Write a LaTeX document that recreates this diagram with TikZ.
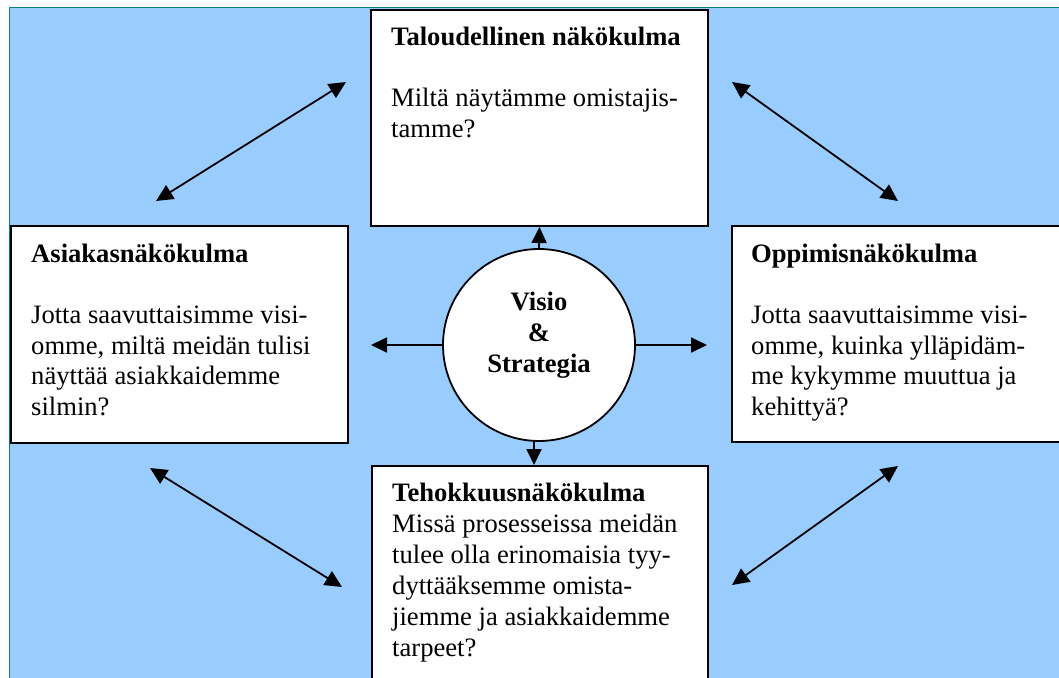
\documentclass[tikz,border=0pt]{standalone}
\usepackage{fontspec}
\setmainfont{Liberation Serif}
\usetikzlibrary{arrows.meta}
\definecolor{skyfill}{HTML}{99CCFF}
\definecolor{edgeteal}{HTML}{008080}

\begin{document}
\begin{tikzpicture}[x=1pt,y=-1pt,
  panel/.style={draw=black, line width=2pt, fill=white, anchor=north west, inner sep=0pt},
  % multi-line text: the base anchor sits on the baseline of the last line
  body/.style={anchor=base west, align=left, inner sep=0pt, font=\fontsize{26.6}{30.7}\selectfont},
  link/.style={line width=1.8pt, -{Triangle[length=16pt,width=15pt]}},
  dlink/.style={line width=1.8pt, {Triangle[length=17pt,width=16pt]}-{Triangle[length=17pt,width=16pt]}}]
  \useasboundingbox (0,0) rectangle (1059,677);
  \clip (0,0) rectangle (1059,677);

  % sky-blue backdrop with its thin framing edge
  \fill[skyfill] (9,8) rectangle (1070,690);
  \draw[edgeteal, line width=1pt] (9,690) -- (9,8) -- (1070,8);

  % the four perspective panels
  \node[panel, minimum width=337pt, minimum height=216pt] (fin) at (370,9) {};
  \node[panel, minimum width=337pt, minimum height=217pt] (cust) at (10,225) {};
  \node[panel, minimum width=340pt, minimum height=216pt] (learn) at (731,225) {};
  \node[panel, minimum width=336pt, minimum height=230pt] (proc) at (371,465) {};

  \node[body] (finT) at (391,137.1)
    {\textbf{Taloudellinen näkökulma}\\[30.7pt]Miltä näytämme omistajis-\\tamme?};
  \node[body] (custT) at (31,415.5)
    {\textbf{Asiakasnäkökulma}\\[30.7pt]Jotta saavuttaisimme visi-\\omme, miltä meidän tulisi\\näyttää asiakkaidemme\\silmin?};
  \node[body] (learnT) at (751,415.5)
    {\textbf{Oppimisnäkökulma}\\[30.7pt]Jotta saavuttaisimme visi-\\omme, kuinka ylläpidäm-\\me kykymme muuttua ja\\kehittyä?};
  \node[body, font=\fontsize{26.6}{31}\selectfont] (procT) at (392,656.5)
    {\textbf{Tehokkuusnäkökulma}\\Missä prosesseissa meidän\\tulee olla erinomaisia tyy-\\dyttääksemme omista-\\jiemme ja asiakkaidemme\\tarpeet?};

  % central vision circle
  \node[circle, draw=black, line width=1.8pt, fill=white, minimum size=192pt, inner sep=0pt] (core) at (539,345) {};
  \node[anchor=base, align=center, inner sep=0pt, font=\fontsize{26.6}{31}\selectfont\bfseries] (coreT) at (539,372)
    {Visio\\\&\\Strategia};

  % short arrows out of the circle
  \coordinate (lt) at (371,345);
  \coordinate (rt) at (707,345);
  \coordinate (dnA) at (534,441);
  \coordinate (dnB) at (534,465);
  \draw[link] (core.north) -- (fin.south);
  \draw[link] (core.west) -- (lt);
  \draw[link] (core.east) -- (rt);
  \draw[link] (dnA) -- (dnB);

  % double-headed diagonals between neighbouring panels
  \coordinate (a1) at (156,201); \coordinate (a2) at (346,82);
  \coordinate (b1) at (732,82);  \coordinate (b2) at (898,201);
  \coordinate (c1) at (150,468); \coordinate (c2) at (342,587);
  \coordinate (d1) at (898,466); \coordinate (d2) at (732,585);
  \draw[dlink] (a1) -- (a2);
  \draw[dlink] (b1) -- (b2);
  \draw[dlink] (c1) -- (c2);
  \draw[dlink] (d1) -- (d2);
\end{tikzpicture}
\end{document}
